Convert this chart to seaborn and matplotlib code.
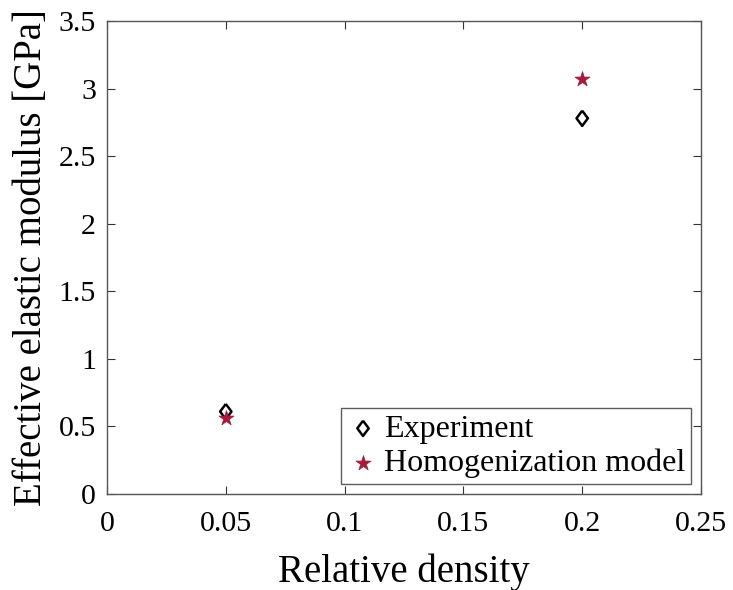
import matplotlib
matplotlib.use("Agg")
import matplotlib.pyplot as plt
import seaborn as sns
import pandas as pd

densidade = [0.05, 0.2]
experimento = [0.61, 2.78]
homogeneizacao = [0.56, 3.07]

df_exp = pd.DataFrame({"densidade": densidade, "modulo": experimento})
df_hom = pd.DataFrame({"densidade": densidade, "modulo": homogeneizacao})

sns.set_style("ticks")
plt.rcParams["font.family"] = ["Liberation Serif", "DejaVu Serif"]
plt.rcParams["text.color"] = "black"
plt.rcParams["axes.labelcolor"] = "black"
plt.rcParams["xtick.color"] = "black"
plt.rcParams["ytick.color"] = "black"

fig = plt.figure(figsize=(7.33, 5.9), dpi=100)
ax = fig.add_axes([107 / 733, 96 / 590, 594 / 733, 473 / 590])

# losango estilo matlab (um pouco mais alto que largo)
losango = [(0, 1), (0.75, 0), (0, -1), (-0.75, 0), (0, 1)]

sns.scatterplot(data=df_exp, x="densidade", y="modulo", marker=losango, s=120,
                facecolor="none", edgecolor="black", linewidth=1.8,
                label="Experiment", ax=ax, zorder=3)
sns.scatterplot(data=df_hom, x="densidade", y="modulo", marker="*", s=130,
                color="#a51c3a", edgecolor="#a51c3a", linewidth=0.5,
                label="Homogenization model", ax=ax, zorder=4)

ax.set_xlim(0, 0.25)
ax.set_ylim(0, 3.5)
ax.set_xticks([0, 0.05, 0.1, 0.15, 0.2, 0.25])
ax.set_xticklabels(["0", "0.05", "0.1", "0.15", "0.2", "0.25"])
ax.set_yticks([0, 0.5, 1, 1.5, 2, 2.5, 3, 3.5])
ax.set_yticklabels(["0", "0.5", "1", "1.5", "2", "2.5", "3", "3.5"])
ax.tick_params(direction="in", labelsize=21.5, length=6, top=True, right=True,
               labeltop=False, labelright=False, color="#333333")
ax.tick_params(axis="x", pad=12)
ax.tick_params(axis="y", pad=8)
for s in ax.spines.values():
    s.set_color("#555555")
    s.set_linewidth(1.0)

ax.set_xlabel("Relative density", fontsize=28, labelpad=12)
ax.set_ylabel("Effective elastic modulus [GPa]", fontsize=28, labelpad=6)

leg = ax.legend(loc="lower right", fontsize=23, frameon=True, fancybox=False,
                handletextpad=0.15, borderpad=0.2, labelspacing=0.15,
                handlelength=1.0, borderaxespad=0.3)
leg.get_frame().set_edgecolor("#333333")
leg.get_frame().set_linewidth(1.0)

fig.savefig("out.png", dpi=100)
